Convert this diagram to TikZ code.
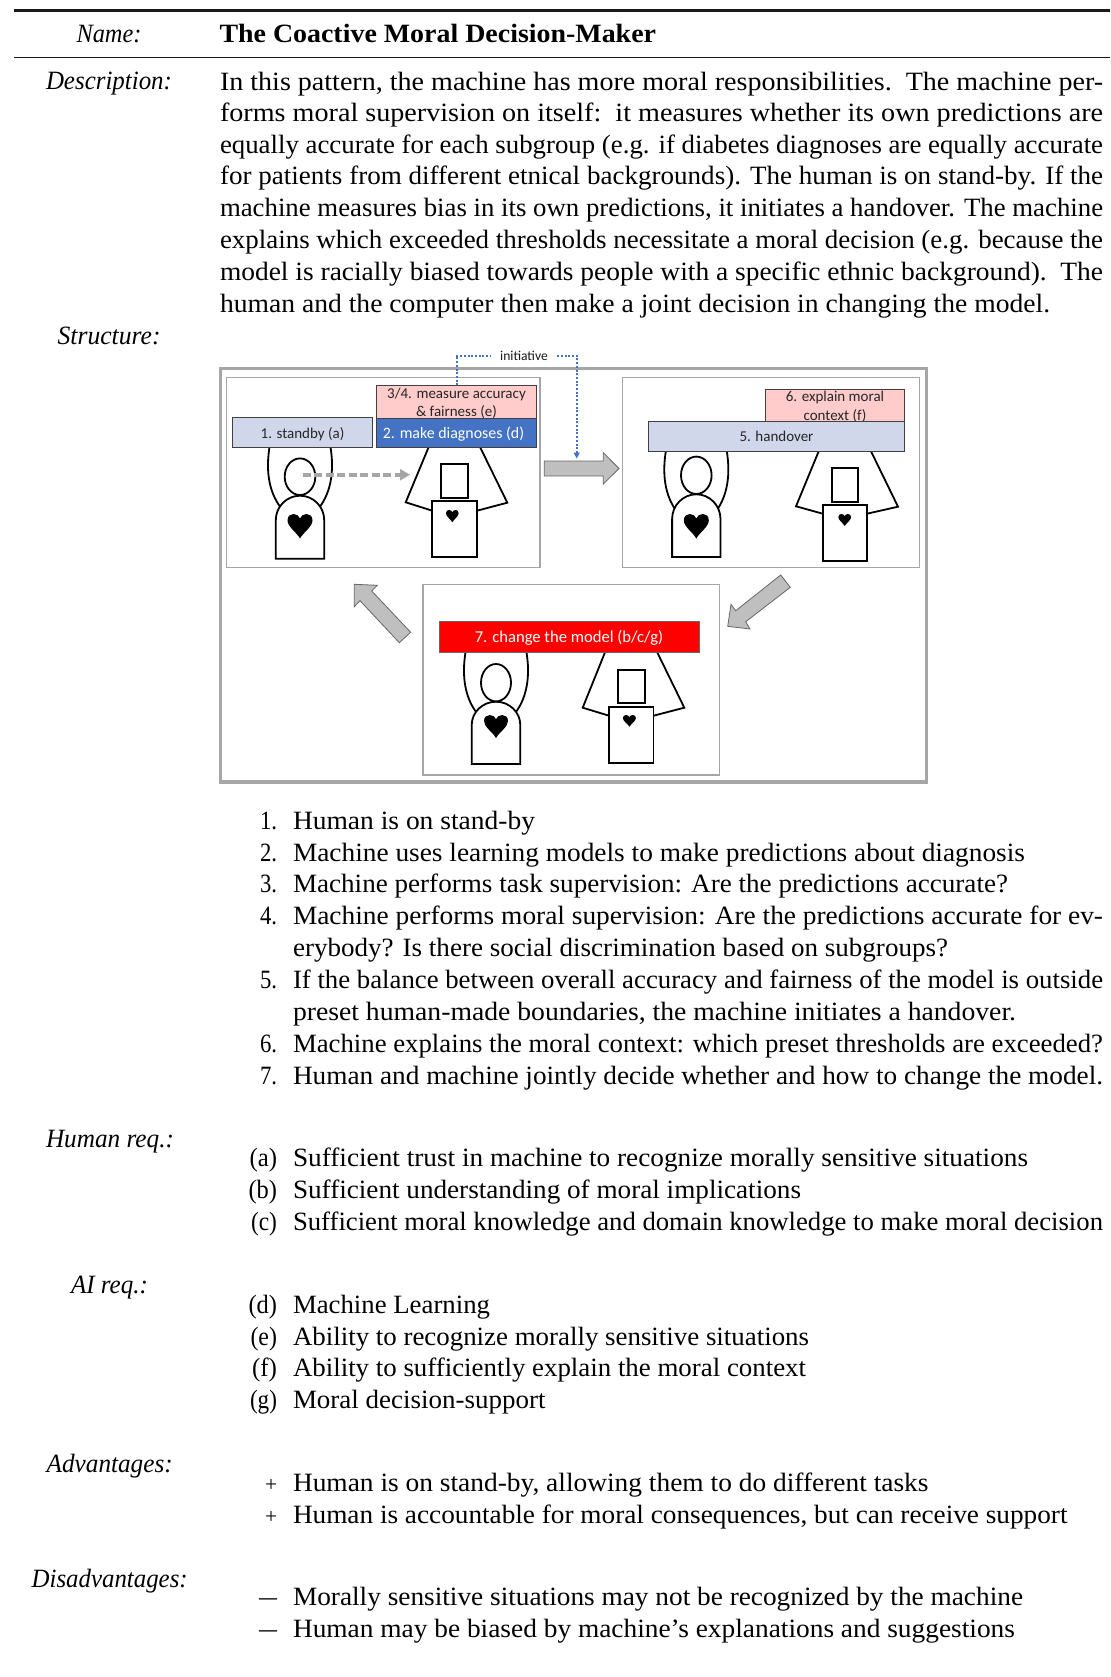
\documentclass[tikz,border=0pt]{standalone}
\usepackage{fontspec}
\usepackage{graphicx}
\usetikzlibrary{arrows.meta}
\setmainfont{Liberation Serif}
\newfontfamily\figfont{Carlito}
\definecolor{framegrey}{HTML}{A6A6A6}
\definecolor{arrowfill}{HTML}{BFBFBF}
\definecolor{paleblue}{HTML}{D0D7EB}
\definecolor{palepink}{HTML}{FFCBCB}
\definecolor{midblue}{HTML}{4472C4}
\definecolor{boxedge}{HTML}{404040}
\tikzset{
  txt/.style={anchor=base west,inner sep=0pt,outer sep=0pt,font=\fontsize{26.4pt}{31.7pt}\selectfont},
  lab/.style={anchor=base east,inner sep=0pt,outer sep=0pt,font=\fontsize{26.4pt}{31.7pt}\selectfont},
  outerframe/.style={draw=framegrey,line width=3.5pt,fill=white},
  panel/.style={draw=framegrey,line width=1.4pt,fill=white},
  blockarrow/.style={draw=boxedge!80,line width=0.8pt,fill=arrowfill,line join=miter},
  figbox/.style={draw=boxedge,line width=0.9pt,inner sep=0pt,outer sep=0pt,align=center,
     font=\figfont\fontsize{15pt}{18pt}\selectfont,text=black!85},
  figtext/.style={anchor=base,inner sep=0pt,outer sep=0pt,font=\figfont\fontsize{15pt}{18pt}\selectfont,text=black!85},
  figline/.style={draw=black,line width=1.8pt,line join=miter},
  figfill/.style={draw=black,line width=1.8pt,fill=white},
  handshift/.style={draw=framegrey,line width=3.6pt,dash pattern=on 8pt off 3.5pt,
     -{Triangle[length=10pt,width=11pt,fill=framegrey]}},
  initline/.style={draw=midblue,line width=2pt,dash pattern=on 2pt off 1.7pt},
  initlabel/.style={fill=white,inner sep=0pt,minimum width=66pt,minimum height=20pt,
     font=\figfont\fontsize{13.6pt}{16pt}\selectfont,text=black!90},
}
% line of text stretched to the measured width
\newcommand{\tl}[5]{\node[txt] (#1) at (#2,#3) {\resizebox{#4pt}{\height}{#5}};}
\newcommand{\il}[4]{\node[lab] (#1) at (277,#2) {\resizebox{#3pt}{\height}{#4}};}
\newcommand{\heartat}[4]{%
  \begin{scope}[shift={(#1,#2)},x=#3pt,y=-#4pt]
  \fill[black] (0,1) .. controls (-0.14,0.74) and (-0.5,0.52) .. (-0.5,0.26)
     .. controls (-0.5,0.08) and (-0.38,0) .. (-0.26,0)
     .. controls (-0.13,0) and (-0.04,0.08) .. (0,0.18)
     .. controls (0.04,0.08) and (0.13,0) .. (0.26,0)
     .. controls (0.38,0) and (0.5,0.08) .. (0.5,0.26)
     .. controls (0.5,0.52) and (0.14,0.74) .. (0,1) -- cycle;
  \end{scope}}
% #1 cx  #2 base  #3 body top  #4 half width  #5 side top  #6 arm start y  #7 head cy  #8 head rx #9 head ry
\newcommand{\humanfig}[9]{%
  \draw[figline,fill=none] ({#1-30.5},#6) .. controls ({#1-34},{#6+22}) and ({#1-32},{#6+44}) .. ({#1-19},{#6+61});
  \draw[figline,fill=none] ({#1+30.5},#6) .. controls ({#1+34},{#6+22}) and ({#1+32},{#6+44}) .. ({#1+19},{#6+61});
  \draw[figfill] ({#1-#4},#2) -- ({#1-#4},#5)
    .. controls ({#1-#4},{#5-0.55*(#5-#3)}) and ({#1-0.55*#4},#3) .. (#1,#3)
    .. controls ({#1+0.55*#4},#3) and ({#1+#4},{#5-0.55*(#5-#3)}) .. ({#1+#4},#5)
    -- ({#1+#4},#2) -- cycle;
  \draw[figfill] (#1,#7) ellipse [x radius=#8,y radius=#9];}
\begin{document}
\begin{tikzpicture}[x=1pt,y=-1pt]
\useasboundingbox (0,0) rectangle (1110,1677);
% rules
\coordinate (ruleAl) at (14,10.7); \coordinate (ruleAr) at (1110,10.7);
\coordinate (ruleBl) at (14,57.3); \coordinate (ruleBr) at (1110,57.3);
\draw[line width=2.6pt,black!90] (ruleAl) -- (ruleAr);
\draw[line width=1.5pt,black!90] (ruleBl) -- (ruleBr);
% left column
\tl{lName}{76.5}{43}{65}{\itshape Name:}
\tl{lDesc}{46}{90}{126}{\itshape Description:}
\tl{lStruct}{57.6}{344.6}{103}{\itshape Structure:}
\tl{lHuman}{46}{1147}{128}{\itshape Human req.:}
\tl{lAI}{71}{1293.5}{77}{\itshape AI req.:}
\tl{lAdv}{46.7}{1472}{126}{\itshape Advantages:}
\tl{lDis}{31.7}{1587}{156}{\itshape Disadvantages:}
% title
\tl{title}{219.5}{43}{436.5}{\bfseries The Coactive Moral Decision-Maker}
% description
\tl{d1}{220}{90.2}{883}{In this pattern, the machine has more moral responsibilities.\ \ The machine per-}
\tl{d2}{220}{121.6}{883}{forms moral supervision on itself:\ \ it measures whether its own predictions are}
\tl{d3}{220}{153.6}{883}{equally accurate for each subgroup (e.g. if diabetes diagnoses are equally accurate}
\tl{d4}{220}{185}{883}{for patients from different etnical backgrounds). The human is on stand-by. If the}
\tl{d5}{220}{216.7}{883}{machine measures bias in its own predictions, it initiates a handover. The machine}
\tl{d6}{220}{249}{883}{explains which exceeded thresholds necessitate a moral decision (e.g. because the}
\tl{d7}{220}{280.7}{883}{model is racially biased towards people with a specific ethnic background).\ \ The}
\tl{d8}{220}{312.4}{830}{human and the computer then make a joint decision in changing the model.}
% figure frames
\draw[outerframe] (220.7,368.5) rectangle (926.5,782);
\draw[panel] (226.7,377.3) rectangle (540,567.3);
\draw[panel] (622.7,377.3) rectangle (919.5,567.3);
\draw[panel] (423,584.7) rectangle (719.5,775);
% block arrows
\draw[blockarrow] (544.3,461) -- (603.3,461) -- (603.3,452.7) -- (619,468.5) -- (603.3,484) -- (603.3,476) -- (544.3,476) -- cycle;
\draw[blockarrow] (780.7,575) -- (735.7,610.7) -- (731,604.3) -- (727.7,626.3) -- (750,629) -- (745.7,621.7) -- (790.3,587.3) -- cycle;
\draw[blockarrow] (410.7,632.3) -- (371.7,591) -- (377.3,585.3) -- (354.3,584.3) -- (354.3,606.7) -- (360,600.7) -- (399.3,642.7) -- cycle;
% panel 1 figures
\humanfig{300}{558.7}{495.7}{24.2}{520}{447}{476.7}{15.3}{18.3}
\heartat{300}{514}{25}{24.5}
\draw[figline] (428.7,447) -- (405.7,502.3) -- (432.3,510.7);
\draw[figline] (480,447) -- (507.3,502.7) -- (477,510.7);
\draw[figfill] (441,464.3) rectangle (468,497.7);
\draw[figfill] (432.3,501.3) rectangle (477,557.3);
\heartat{452.3}{510}{12.7}{12.3}
% panel 1 boxes
\node[figbox,fill=palepink,minimum width=159.6pt,minimum height=32.7pt] (box34) at (456.5,401.7) {};
\node[figtext] (box34a) at (456.5,398.5) {3/4. measure accuracy};
\node[figtext] (box34b) at (456.5,416.3) {\& fairness (e)};
\node[figbox,fill=midblue,text=white,minimum width=159.6pt,minimum height=29.3pt,font=\figfont\fontsize{15.9pt}{18pt}\selectfont,text height=11pt,text depth=0pt] (box2) at (456.5,432.7) {2. make diagnoses (d)\hspace{6pt}};
\node[figbox,fill=paleblue,minimum width=140.4pt,minimum height=29.7pt,text height=11.6pt,text depth=0pt] (box1) at (302.5,432.2) {1. standby (a)};
% dashed initiative shift arrow inside panel 1
\coordinate (headA) at (302.7,474.7);
\coordinate (machA) at (410,474.7);
\draw[handshift] (headA) -- (machA);
% panel 2 figures
\humanfig{696.3}{557}{494.3}{24.2}{519}{451.3}{475.3}{15.3}{18.7}
\heartat{696.3}{514}{25}{24.5}
\draw[figline] (818.7,451.3) -- (796,506.3) -- (822.7,513.7);
\draw[figline] (871,451.3) -- (898,506.7) -- (867,513.7);
\draw[figfill] (831.7,468.3) rectangle (858,501.7);
\draw[figfill] (822.7,505) rectangle (867,561);
\heartat{844.7}{514}{12.7}{12}
% panel 2 boxes
\node[figbox,fill=palepink,minimum width=139.4pt,minimum height=32.4pt] (box6) at (835,405.5) {};
\node[figtext] (box6a) at (835,401.8) {6. explain moral};
\node[figtext] (box6b) at (835,420) {context (f)};
\node[figbox,fill=paleblue,minimum width=256.4pt,minimum height=29.6pt] (box5) at (776.5,436.5) {5. handover};
% panel 3 figures
\humanfig{496}{764}{701.7}{24.3}{725}{652.3}{682.7}{15}{18.7}
\heartat{496}{715}{24}{23}
\draw[figline] (605,652.3) -- (582.7,707.7) -- (609,715.7);
\draw[figline] (657.2,652.3) -- (684.3,707.7) -- (653.5,715.7);
\draw[figfill] (618.2,670) rectangle (644.8,703.3);
\draw[figfill] (609,706.7) rectangle (653.5,762.7);
\heartat{629.4}{715}{13}{11.7}
\node[figbox,draw=black!60,fill=red,text=white,minimum width=260pt,minimum height=31pt,font=\figfont\fontsize{16.6pt}{18pt}\selectfont,text height=12pt,text depth=0pt] (box7) at (569,636.8) {7. change the model (b/c/g)};
% initiative connector
\node[initlabel] (init) at (524,355.7) {initiative};
\coordinate (arrowtop) at (576.7,458.5);
\draw[initline] (box34.north) |- (init.west);
\draw[initline,-{Triangle[length=6pt,width=6pt]}] (init.east) -| (arrowtop);
% numbered list
\il{n1}{829.8}{17}{1.} \tl{t1}{293}{829.8}{242}{Human is on stand-by}
\il{n2}{861}{17}{2.} \tl{t2}{293}{861}{732}{Machine uses learning models to make predictions about diagnosis}
\il{n3}{892.8}{17}{3.} \tl{t3}{293}{892.8}{715}{Machine performs task supervision: Are the predictions accurate?}
\il{n4}{924.4}{17}{4.} \tl{t4}{293}{924.4}{810}{Machine performs moral supervision: Are the predictions accurate for ev-}
\tl{t4b}{293}{956.4}{655}{erybody? Is there social discrimination based on subgroups?}
\il{n5}{988.7}{17}{5.} \tl{t5}{293}{988.7}{810}{If the balance between overall accuracy and fairness of the model is outside}
\tl{t5b}{293}{1020.5}{723}{preset human-made boundaries, the machine initiates a handover.}
\il{n6}{1052.5}{17}{6.} \tl{t6}{293}{1052.5}{810}{Machine explains the moral context: which preset thresholds are exceeded?}
\il{n7}{1084.5}{17}{7.} \tl{t7}{293}{1084.5}{810}{Human and machine jointly decide whether and how to change the model.}
% human requirements
\il{a}{1166}{27.5}{(a)} \tl{ta}{293}{1166}{735}{Sufficient trust in machine to recognize morally sensitive situations}
\il{b}{1198}{28.5}{(b)} \tl{tb}{293}{1198}{508}{Sufficient understanding of moral implications}
\il{c}{1230}{26}{(c)} \tl{tc}{293}{1230}{810}{Sufficient moral knowledge and domain knowledge to make moral decision}
% AI requirements
\il{d}{1313}{28.5}{(d)} \tl{td}{293}{1313}{197}{Machine Learning}
\il{e}{1345}{26.5}{(e)} \tl{te}{293}{1345}{516}{Ability to recognize morally sensitive situations}
\il{f}{1376.5}{25}{(f)} \tl{tf}{293}{1376.5}{513}{Ability to sufficiently explain the moral context}
\il{g}{1408}{27}{(g)} \tl{tg}{293}{1408}{252.5}{Moral decision-support}
% advantages
\node[lab] (p1) at (277,1491) {\resizebox{12pt}{!}{+}}; \tl{tp1}{293}{1491}{635.5}{Human is on stand-by, allowing them to do different tasks}
\node[lab] (p2) at (277,1523) {\resizebox{12pt}{!}{+}}; \tl{tp2}{293}{1523}{774.5}{Human is accountable for moral consequences, but can receive support}
% disadvantages
\il{m1}{1605}{18}{—} \tl{tm1}{293}{1605}{730}{Morally sensitive situations may not be recognized by the machine}
\il{m2}{1637}{18}{—} \tl{tm2}{293}{1637}{722}{Human may be biased by machine’s explanations and suggestions}
\end{tikzpicture}
\end{document}
